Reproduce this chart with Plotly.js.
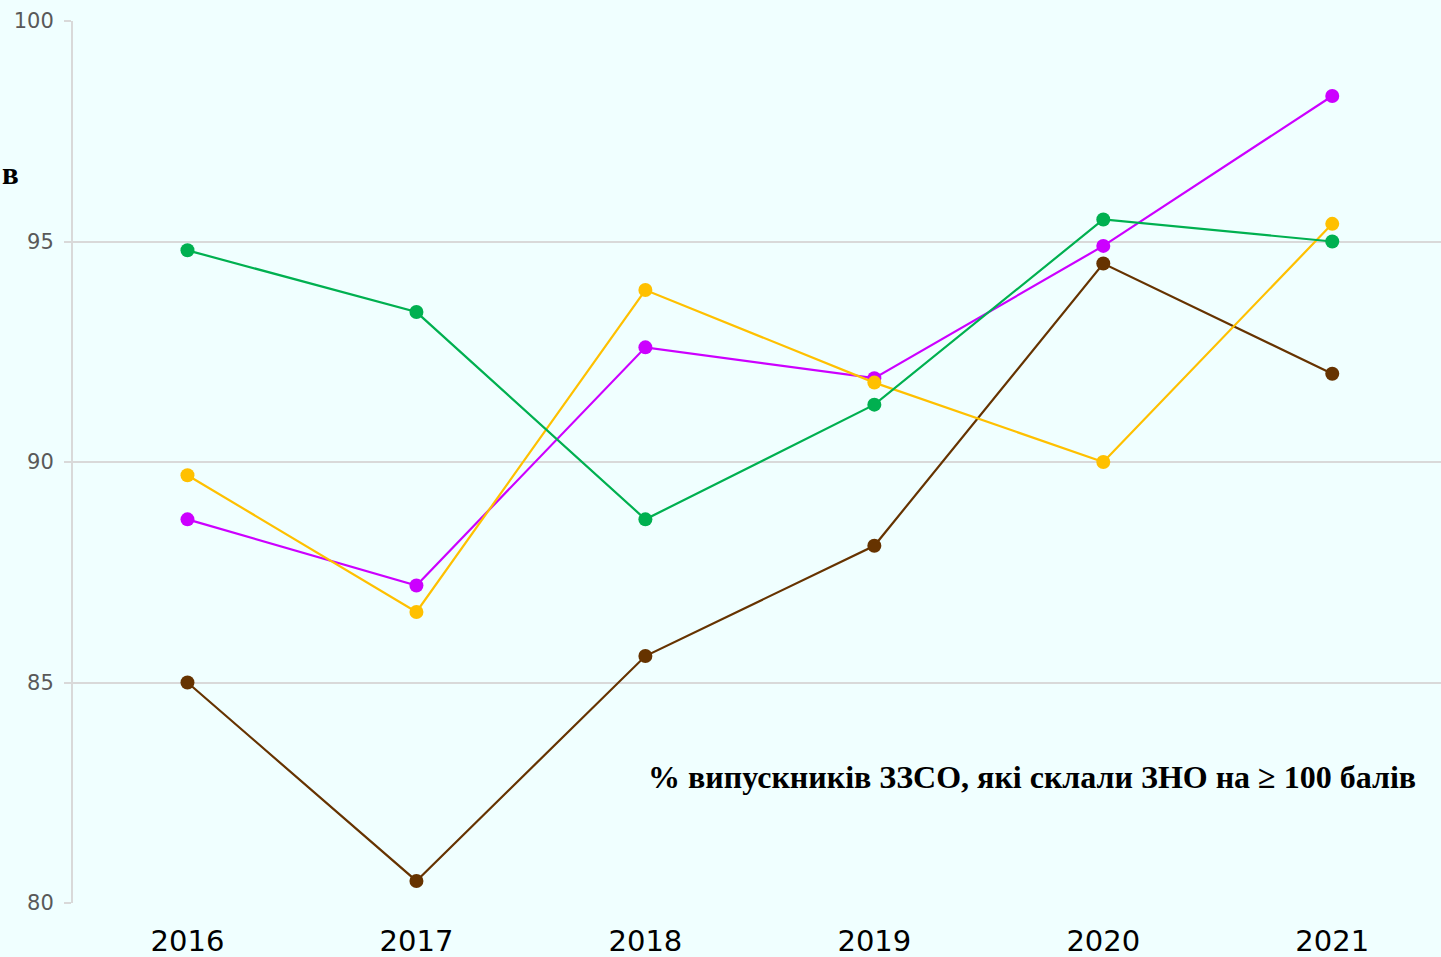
<!DOCTYPE html>
<html>
<head>
<meta charset="utf-8">
<script src="https://cdn.plot.ly/plotly-3.0.1.min.js"></script>
<style>
  html, body { margin: 0; padding: 0; background: #f0ffff; }
  #chart { width: 1441px; height: 957px; }
</style>
</head>
<body>
<div id="chart"></div>
<script>
var years = ['2016', '2017', '2018', '2019', '2020', '2021'];
var magentaVals = [88.7, 87.2, 92.6, 91.9, 94.9, 98.3];
var orangeVals = [89.7, 86.6, 93.9, 91.8, 90.0, 95.4];
var greenVals = [94.8, 93.4, 88.7, 91.3, 95.5, 95.0];
var brownVals = [85.0, 80.5, 85.6, 88.1, 94.5, 92.0];
var yTicks = [80, 85, 90, 95, 100];

function series(vals, color) {
    return {
        x: years,
        y: vals,
        type: 'scatter',
        mode: 'lines+markers',
        line: { color: color, width: 2.2 },
        marker: { color: color, size: 14 },
        hoverinfo: 'x+y'
    };
}

var data = [
    series(brownVals, '#663300'),
    series(magentaVals, '#cc00ff'),
    series(orangeVals, '#ffc000'),
    series(greenVals, '#00b050')
];

var layout = {
    width: 1441,
    height: 957,
    showlegend: false,
    paper_bgcolor: '#f0ffff',
    plot_bgcolor: '#f0ffff',
    margin: { l: 73, r: 0, t: 21, b: 54 },
    xaxis: {
        type: 'category',
        range: [-0.5, 5.475],
        showgrid: false,
        showline: false,
        zeroline: false,
        ticks: '',
        ticklabelstandoff: 18,
        tickfont: { family: 'DejaVu Sans, sans-serif', size: 29, color: '#000000' }
    },
    yaxis: {
        range: [80, 100],
        tickvals: yTicks,
        showgrid: true,
        gridcolor: '#d9d9d9',
        gridwidth: 2,
        showline: true,
        linecolor: '#d9d9d9',
        linewidth: 2,
        zeroline: false,
        ticks: 'outside',
        ticklen: 7,
        tickcolor: '#d9d9d9',
        tickwidth: 2,
        ticklabelstandoff: 6,
        tickfont: { family: 'DejaVu Sans, sans-serif', size: 21, color: '#595959' }
    },
    annotations: [
        {
            text: '% випускників ЗЗСО, які склали ЗНО на ≥ 100 балів',
            xref: 'paper', yref: 'paper',
            x: 0.983, y: 0.143,
            xanchor: 'right', yanchor: 'middle',
            showarrow: false,
            font: { family: 'Liberation Serif, Times New Roman, serif', size: 32, color: '#000000', weight: 'bold' }
        },
        {
            text: 'в',
            xref: 'paper', yref: 'paper',
            x: -0.053, y: 0.827,
            xanchor: 'left', yanchor: 'middle',
            showarrow: false,
            font: { family: 'Liberation Serif, Times New Roman, serif', size: 31, color: '#000000', weight: 'bold' }
        }
    ]
};

Plotly.newPlot(document.getElementById('chart'), data, layout, { displayModeBar: false });
</script>
</body>
</html>
